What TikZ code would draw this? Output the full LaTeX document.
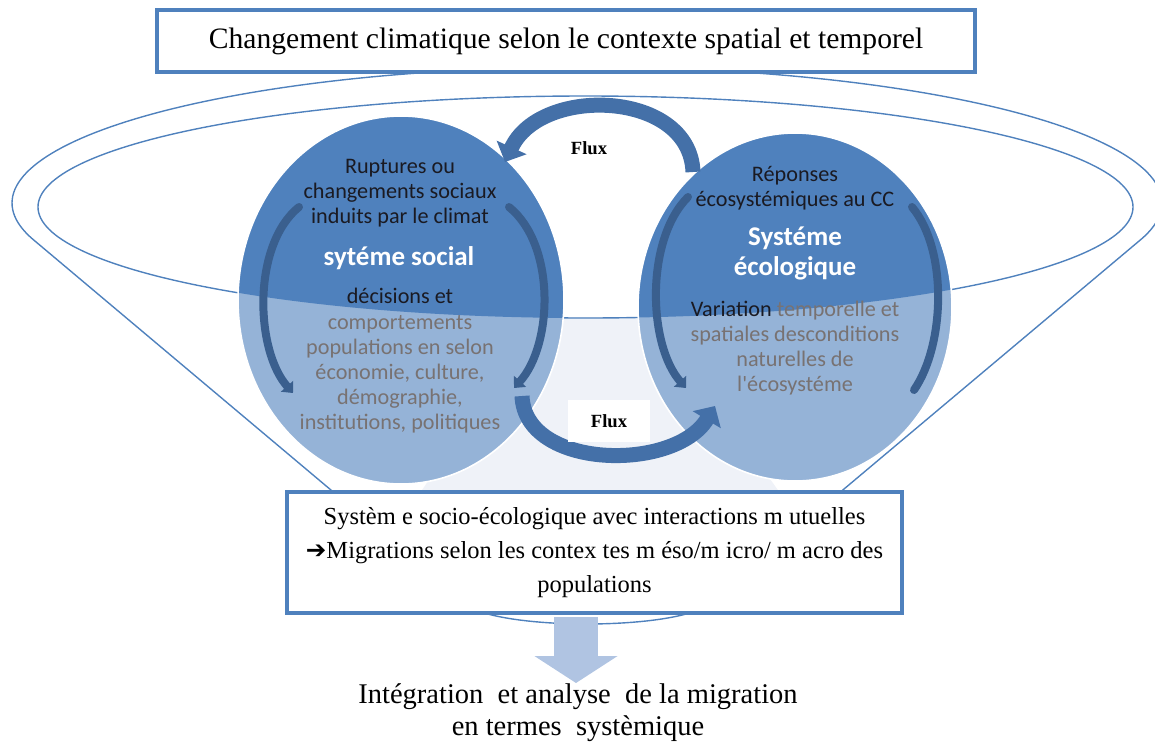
\documentclass[tikz,border=0pt]{standalone}
\usepackage{fontspec}
\setmainfont{Liberation Serif}
\newfontfamily\carl{Carlito}
\newfontfamily\djv{DejaVu Sans}
\usetikzlibrary{arrows.meta}
\definecolor{rim}{HTML}{4F81BD}
\definecolor{darkb}{HTML}{4F81BD}
\definecolor{lightb}{HTML}{95B3D7}
\definecolor{fillpale}{HTML}{EFF2F8}
\definecolor{arrowb}{HTML}{4470A8}
\definecolor{arrowd}{HTML}{3A5F8E}
\definecolor{txtgray}{HTML}{787272}
\definecolor{txtdark}{HTML}{1A1A22}
\definecolor{downb}{HTML}{B0C4E2}
\begin{document}
\begin{tikzpicture}[x=0.5pt,y=-0.5pt,
  rimline/.style={draw=rim, line width=0.7pt},
  bigbox/.style={draw=rim, line width=2pt, fill=white, inner sep=0pt, align=center},
  fluxarrow/.style={draw=arrowb, line width=7.5pt, -{Triangle[width=16pt,length=8pt]}},
  cyclearrow/.style={draw=arrowd, line width=4pt, line cap=round, -{Triangle[width=8pt,length=4.5pt]}},
  ctext/.style={font=\carl\fontsize{11.1}{12.6}\selectfont, align=center, inner sep=0pt},
  ttext/.style={font=\carl\bfseries\fontsize{13.5}{15}\selectfont, text=white, align=center, inner sep=0pt},
  fluxlabel/.style={font=\bfseries\fontsize{9.3}{11}\selectfont, inner sep=0pt},
  downarrow/.style={draw=downb, line width=22pt, -{Triangle[width=41pt,length=13.5pt]}}
]
\useasboundingbox (0,0) rectangle (1155,744);

% pale interior between the circles
\fill[fillpale] (540,317) -- (655,317) -- (780,493) -- (420,493) -- cycle;

% funnel: outer outline
\draw[rimline] plot[domain=164.6:375.4, samples=150, variable=\t] ({587+575*cos(\t)},{203+136*sin(\t)})
  -- (706,605)
  -- plot[domain=12.9:167.1, samples=40, variable=\t] ({587+122*cos(\t)},{600+24*sin(\t)})
  -- cycle;
% funnel: inner rim
\draw[rimline] (585.5,207) ellipse[x radius=547.5, y radius=111];

% circles
\fill[lightb] (401,300) ellipse[x radius=163, y radius=184];
\fill[lightb] (795,307) ellipse[x radius=157, y radius=174];
\begin{scope}
  \clip (585.5,207) ellipse[x radius=547.5, y radius=111];
  \fill[darkb] (401,300) ellipse[x radius=163, y radius=184];
  \fill[darkb] (795,307) ellipse[x radius=157, y radius=174];
\end{scope}
\draw[white, line width=0.8pt] (401,300) ellipse[x radius=163, y radius=184];
\draw[white, line width=0.8pt] (795,307) ellipse[x radius=157, y radius=174];

% arrows inside the circles
\coordinate (la1) at (299,207); \coordinate (la2) at (293,393);
\coordinate (lb1) at (509,207); \coordinate (lb2) at (514,388);
\coordinate (ra1) at (688,197); \coordinate (ra2) at (686,388);
\coordinate (rb1) at (912,207); \coordinate (rb2) at (914,390);
\draw[cyclearrow] (la1) .. controls (252,245) and (255,350) .. (la2);
\draw[cyclearrow] (lb1) .. controls (556,245) and (553,345) .. (lb2);
\draw[cyclearrow] (ra1) .. controls (645,240) and (648,345) .. (ra2);
\draw[draw=arrowd, line width=4pt, line cap=round] (rb1) .. controls (948,250) and (945,345) .. (rb2);

% flux arrows
\coordinate (f1s) at (693,172); \coordinate (f1e) at (505,162);
\coordinate (f2s) at (522,396); \coordinate (f2e) at (715,406);
\draw[fluxarrow] (f1s) .. controls (690,90) and (540,85) .. (f1e);
\draw[fluxarrow] (f2s) .. controls (525,470) and (675,472) .. (f2e);
\node[fluxlabel] (flux1) at (589,148) {Flux};
\node[fluxlabel, fill=white, minimum width=41pt, minimum height=21pt] (flux2) at (609,421) {Flux};

% circle texts
\node[ctext, text=txtdark] (soc1) at (400,193) {Ruptures ou\\changements sociaux\\induits par le climat};
\node[ttext] (soct) at (399,258) {syt\'eme social};
\node[ctext, text=txtgray] (soc2) at (400,361) {{\color{txtdark}d\'ecisions et}\\comportements\\populations en selon\\\'economie, culture,\\d\'emographie,\\institutions, politiques};

\node[ctext, text=txtdark] (eco1) at (795,188) {R\'eponses\\\'ecosyst\'emiques au CC};
\node[ttext] (ecot) at (795,253) {Syst\'eme\\\'ecologique};
\node[ctext, text=txtgray] (eco2) at (795,348) {{\color{txtdark}Variation} temporelle et\\spatiales desconditions\\naturelles de\\l'\'ecosyst\'eme};

% boxes
\node[bigbox, minimum width=409pt, minimum height=31pt, font=\fontsize{14.8}{18}\selectfont] (top) at (566,41) {Changement climatique selon le contexte spatial et temporel};
\node[bigbox, minimum width=307.5pt, minimum height=60.5pt, font=\fontsize{12.25}{17}\selectfont] (sys) at (594.5,552.5) {Systèm e socio-écologique avec interactions m utuelles\\{\djv\bfseries ➔}Migrations selon les contex tes m éso/m icro/ m acro des\\populations};

% down arrow and result
\coordinate (da1) at (576,617); \coordinate (da2) at (576,683);
\draw[downarrow] (da1) -- (da2);
\node[font=\fontsize{14.25}{16}\selectfont, align=center, inner sep=0pt] (res) at (578,713) {Intégration\ \ et analyse\ \ de la migration\\en termes\ \ systèmique};
\end{tikzpicture}
\end{document}
